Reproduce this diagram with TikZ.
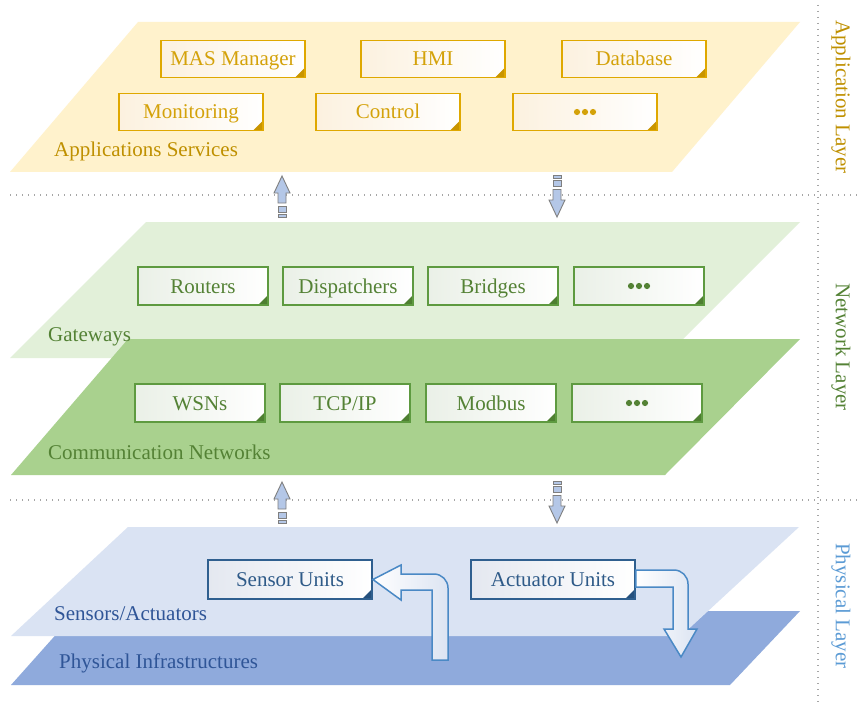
\documentclass[tikz,border=0pt]{standalone}
\usepackage{fontspec}
\setmainfont{Liberation Serif}
\definecolor{appfill}{HTML}{FFF2CC}
\definecolor{applabel}{HTML}{BF9000}
\definecolor{appborder}{HTML}{DFA800}
\definecolor{apptext}{HTML}{D4A20A}
\definecolor{appshade}{HTML}{FCF1DF}
\definecolor{appfold}{HTML}{C99500}
\definecolor{gatefill}{HTML}{E2F0D9}
\definecolor{commfill}{HTML}{A9D18E}
\definecolor{netlabel}{HTML}{548235}
\definecolor{netborder}{HTML}{5E9A40}
\definecolor{netshade}{HTML}{EAF0E7}
\definecolor{netfold}{HTML}{4E7F31}
\definecolor{physlight}{HTML}{DAE3F3}
\definecolor{physdark}{HTML}{8FAADC}
\definecolor{physlabel}{HTML}{2F5597}
\definecolor{physborder}{HTML}{2F5F8F}
\definecolor{phystext}{HTML}{2E5A88}
\definecolor{physshade}{HTML}{E4E8F0}
\definecolor{physfold}{HTML}{25507D}
\definecolor{physarrow}{HTML}{4A89C5}
\definecolor{bendshade}{HTML}{DCE4F2}
\definecolor{smallfill}{HTML}{B4C7E7}
\definecolor{smallline}{HTML}{7F7F7F}
\definecolor{dotline}{HTML}{A6A6A6}
\definecolor{physside}{HTML}{5B9BD5}
\newcommand\fsz{\fontsize{21}{25}\selectfont}
\begin{document}
\begin{tikzpicture}[x=1pt,y=-1pt,
  fold/.style={path picture={\fill[#1] ([xshift=-10pt]path picture bounding box.south east) -- ([yshift=10pt]path picture bounding box.south east) -- (path picture bounding box.south east) -- cycle;}},
  ubox/.style={line width=1.8pt, inner sep=0pt, font=\fsz, text height=14pt, text depth=0pt},
  abox/.style={ubox, draw=appborder, left color=appshade, right color=white, text=apptext, minimum width=144pt, minimum height=37pt, fold=appfold},
  nbox/.style={ubox, draw=netborder, left color=netshade, right color=white, text=netlabel, minimum width=130pt, minimum height=38pt, fold=netfold},
  pbox/.style={ubox, draw=physborder, left color=physshade, right color=white, text=phystext, minimum width=164pt, minimum height=39pt, fold=physfold},
  planelabel/.style={anchor=west, inner sep=0pt, font=\fsz},
  sidelabel/.style={rotate=-90, inner sep=0pt, font=\fsz},
  sep/.style={draw=dotline, line width=1.1pt, dash pattern=on 1.1pt off 4.9pt},
  smallarrow/.style={fill=smallfill, draw=smallline, line width=0.9pt},
  bent/.style={draw=physarrow, line width=1.5pt, left color=white, right color=bendshade},
  pics/uparrow/.style={code={
    \path[smallarrow] (0,0) -- (8,17) -- (4,17) -- (4,27) -- (-4,27) -- (-4,17) -- (-8,17) -- cycle;
    \path[smallarrow] (-4,30) rectangle (4,36);
    \path[smallarrow] (-4,38.5) rectangle (4,41.5);
  }},
  pics/downarrow/.style={code={
    \path[smallarrow] (-4,0) rectangle (4,3);
    \path[smallarrow] (-4,5.5) rectangle (4,11.5);
    \path[smallarrow] (-4,14.5) -- (4,14.5) -- (4,25) -- (8,25) -- (0,42) -- (-8,25) -- (-4,25) -- cycle;
  }},
  pics/threedots/.style={code={
    \fill[#1] (-8,0) circle (3.1pt) (0,0) circle (3.1pt) (8,0) circle (3.1pt);
  }}
]
\useasboundingbox (0,0) rectangle (857,706);
\fill[white] (0,0) rectangle (857,706);

% separators
\draw[sep] (10,195) -- (857,195);
\draw[sep] (10,500) -- (857,500);
\draw[sep] (818,5) -- (818,702);

% planes
\fill[appfill] (138,22) -- (800,22) -- (672,172) -- (10,172) -- cycle;
\fill[gatefill] (146,222) -- (800,222) -- (664,358) -- (10,358) -- cycle;
\fill[commfill] (128,339) -- (800,339) -- (665,475) -- (11,475) -- cycle;
\fill[physdark] (77,611) -- (800,611) -- (730,685) -- (11,685) -- cycle;
\fill[physlight] (128,527) -- (799,527) -- (681,636) -- (11,636) -- cycle;

% plane labels
\node[planelabel, text=applabel] (appsvc) at (54,151) {Applications Services};
\node[planelabel, text=netlabel] (gw) at (48,337) {Gateways};
\node[planelabel, text=netlabel] (cn) at (48,452) {Communication Networks};
\node[planelabel, text=physlabel] (sa) at (54,614) {Sensors/Actuators};
\node[planelabel, text=physlabel] (pi) at (59,663) {Physical Infrastructures};

% side labels
\node[sidelabel, text=applabel] (appl) at (841,97) {Application Layer};
\node[sidelabel, text=netlabel] (netl) at (841,347) {Network Layer};
\node[sidelabel, text=physside] (phyl) at (841,606) {Physical Layer};

% application boxes
\node[abox] (mas) at (233,59) {MAS Manager};
\node[abox] (hmi) at (433,59) {HMI};
\node[abox] (db) at (634,59) {Database};
\node[abox] (mon) at (191,112) {Monitoring};
\node[abox] (ctl) at (388,112) {Control};
\node[abox] (adots) at (585,112) {};
\pic at (adots.center) {threedots=apptext};

% network boxes
\node[nbox] (rt) at (203,286) {Routers};
\node[nbox] (dp) at (348,286) {Dispatchers};
\node[nbox] (br) at (493,286) {Bridges};
\node[nbox] (gdots) at (639,286) {};
\pic at (gdots.center) {threedots=netlabel};
\node[nbox] (wsn) at (200,403) {WSNs};
\node[nbox] (tcp) at (345,403) {TCP/IP};
\node[nbox] (mb) at (491,403) {Modbus};
\node[nbox] (cdots) at (637,403) {};
\pic at (cdots.center) {threedots=netlabel};

% small inter-layer arrows
\pic at (282,176) {uparrow};
\pic at (557,175) {downarrow};
\pic at (282,482) {uparrow};
\pic at (557,481) {downarrow};

% physical boxes
\node[pbox] (sensor) at (290,579.5) {Sensor Units};
\node[pbox] (act) at (553,579.5) {Actuator Units};

% bent arrows
\path[bent] (sensor.east) -- (401,565) -- (401,574) -- (434,574)
  .. controls (441.7,574) and (448,580.3) .. (448,588)
  -- (448,660) -- (432,660) -- (432,590) -- (401,590) -- (401,600) -- cycle;
\path[bent] (act.east |- 0,570) -- (674,570)
  .. controls (681.7,570) and (688,576.3) .. (688,584)
  -- (688,629) -- (697,629) -- (681,657) -- (664,629) -- (673,629)
  -- (673,587) -- (act.east |- 0,587) -- cycle;
\end{tikzpicture}
\end{document}
